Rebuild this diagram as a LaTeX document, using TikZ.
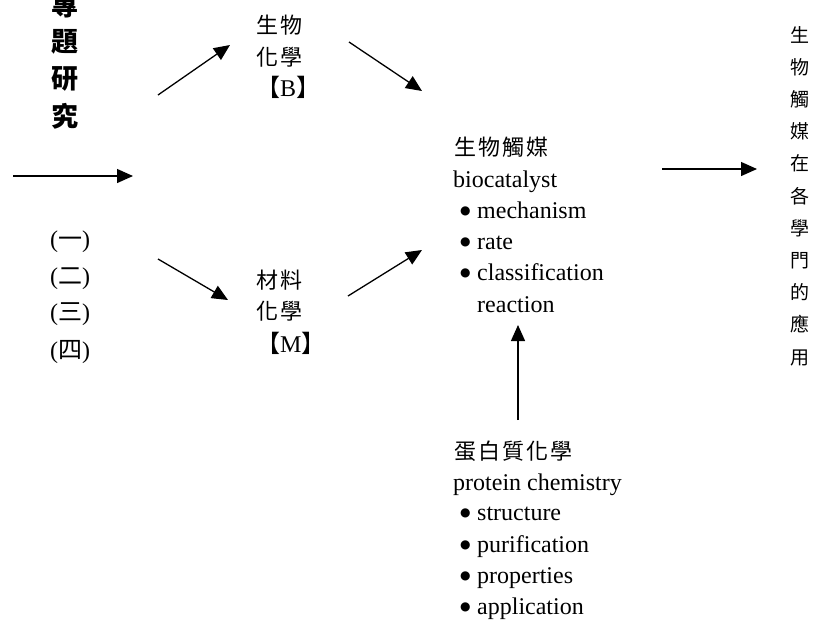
\documentclass[tikz,border=0pt]{standalone}
\usepackage{fontspec}
\setmainfont{Liberation Serif}
\newfontfamily\cjk{Noto Sans CJK TC}[LetterSpace=9]
\newfontfamily\cjkv{Noto Sans CJK TC}
\newfontfamily\dvs{DejaVu Sans}
\usetikzlibrary{arrows.meta}
\newcommand{\bul}{{\dvs\fontsize{12}{12}\selectfont\raisebox{3.4pt}{●}}\hspace{6.5pt}}
\begin{document}
\begin{tikzpicture}[x=1pt,y=-1pt,
  lat/.style={font=\fontsize{24}{24}\selectfont, inner sep=0pt, text height=17pt, text depth=5pt, anchor=west},
  cj/.style={font=\cjk\fontsize{22}{22}\selectfont, inner sep=0pt, text height=19.4pt, text depth=2.6pt, anchor=west},
  mix/.style={font=\fontsize{24}{24}\selectfont, inner sep=0pt, text height=19.4pt, text depth=2.6pt, anchor=west},
  boldcj/.style={font=\cjkv\bfseries\fontsize{27}{27}\selectfont, inner sep=0pt, anchor=center},
  vcol/.style={font=\cjkv\fontsize{19}{32.2}\selectfont, inner sep=0pt, align=center, anchor=center},
  arr/.style={line width=1.3pt, -{Triangle[length=16pt,width=14pt]}},
]
\useasboundingbox (0,0) rectangle (816,622);
% left bold column
\node[boldcj] (t1) at (65,5) {專};
\node[boldcj] (t2) at (65,42) {題};
\node[boldcj] (t3) at (65,79) {研};
\node[boldcj] (t4) at (65,116) {究};
% numbered list
\node[mix, anchor=center] (n1) at (70,239) {({\cjkv 一})};
\node[mix, anchor=center] (n2) at (70,276) {({\cjkv 二})};
\node[mix, anchor=center] (n3) at (70,312) {({\cjkv 三})};
\node[mix, anchor=center] (n4) at (70,350) {({\cjkv 四})};
% top middle
\node[cj] (bio1) at (256,25) {生物};
\node[cj] (bio2) at (256,57) {化學};
\node[mix] (bio3) at (256,88) {{\cjkv 【}B{\cjkv 】}};
% bottom middle
\node[cj] (mat1) at (256,280) {材料};
\node[cj] (mat2) at (256,311) {化學};
\node[mix] (mat3) at (256,344) {{\cjkv 【}M{\cjkv 】}};
% biocatalyst block
\node[cj] (c0) at (454,147) {生物觸媒};
\node[lat] (c1) at (453,181) {biocatalyst};
\node[lat] (c2) at (460,212) {\bul mechanism};
\node[lat] (c3) at (460,243) {\bul rate};
\node[lat] (c4) at (460,274) {\bul classification};
\node[lat] (c5) at (477,306) {reaction};
% protein block
\node[cj] (p0) at (454,451) {蛋白質化學};
\node[lat] (p1) at (453,484) {protein chemistry};
\node[lat] (p2) at (460,514) {\bul structure};
\node[lat] (p3) at (460,546) {\bul purification};
\node[lat] (p4) at (460,577) {\bul properties};
\node[lat] (p5) at (460,608) {\bul application};
% right vertical column
\node[vcol] (r) at (800,196) {生\\物\\觸\\媒\\在\\各\\學\\門\\的\\應\\用};
% arrows
\coordinate (a5s) at (13,176);  \coordinate (a5e) at (133,176);
\coordinate (a1s) at (158,95);  \coordinate (a1e) at (230,45);
\coordinate (a3s) at (158,259); \coordinate (a3e) at (228,300);
\coordinate (a2s) at (349,42);  \coordinate (a2e) at (422,91);
\coordinate (a4s) at (348,296); \coordinate (a4e) at (422,250);
\coordinate (a6s) at (662,169); \coordinate (a6e) at (757,169);
\coordinate (a7s) at (518,420); \coordinate (a7e) at (518,325);
\draw[arr] (a5s) -- (a5e);
\draw[arr] (a1s) -- (a1e);
\draw[arr] (a3s) -- (a3e);
\draw[arr] (a2s) -- (a2e);
\draw[arr] (a4s) -- (a4e);
\draw[arr] (a6s) -- (a6e);
\draw[arr] (a7s) -- (a7e);
\end{tikzpicture}
\end{document}
